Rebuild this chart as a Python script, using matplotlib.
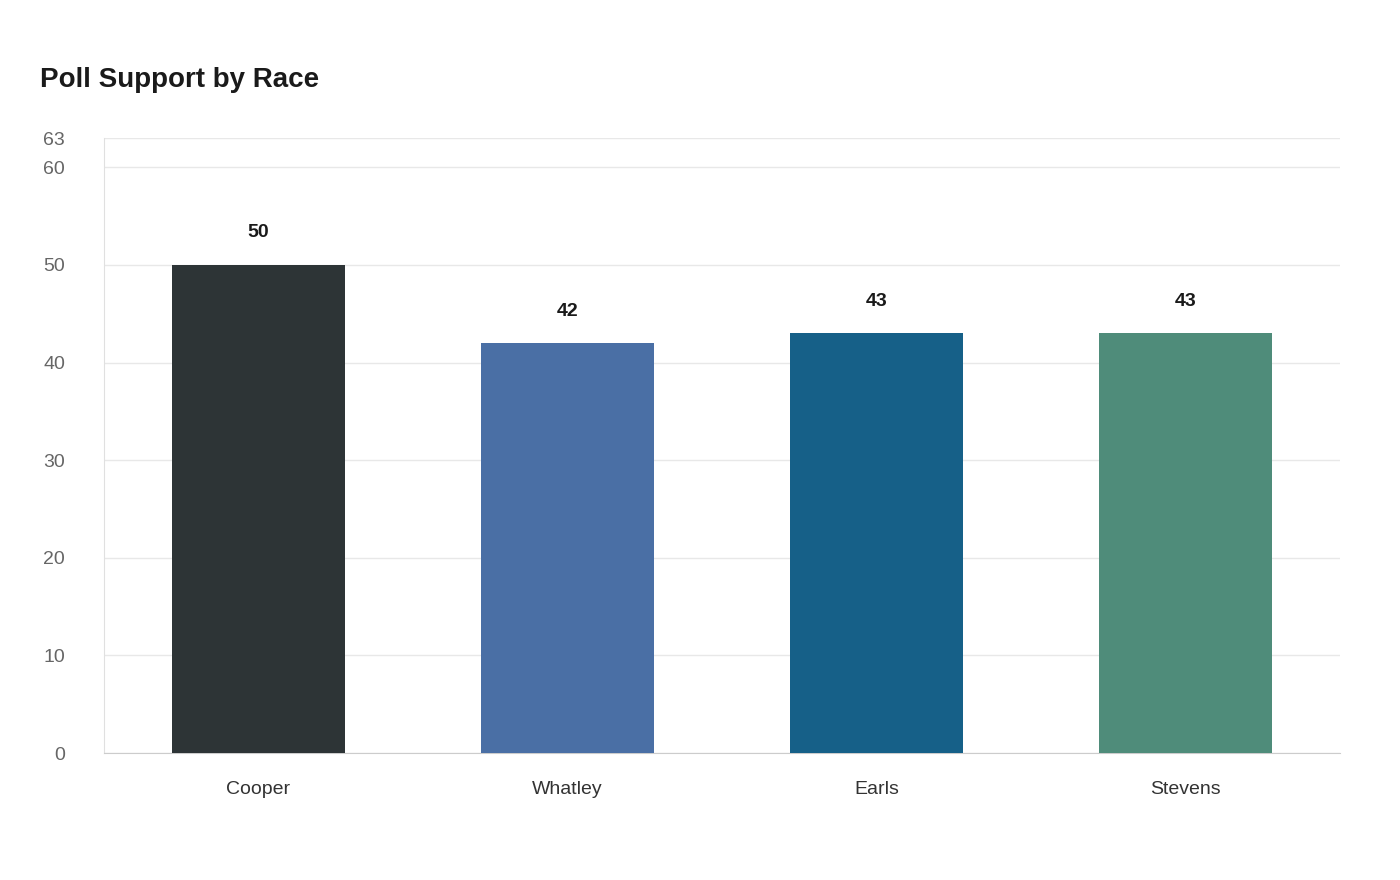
import matplotlib
matplotlib.use("Agg")
import matplotlib.pyplot as plt

plt.rcParams['font.family'] = ['Liberation Sans', 'DejaVu Sans']

categories = ["Cooper", "Whatley", "Earls", "Stevens"]
values = [50, 42, 43, 43]
colors = ["#2d3436", "#4a6fa5", "#166088", "#4f8c7a"]
yticks = [0, 10, 20, 30, 40, 50, 60, 63]

fig = plt.figure(figsize=(14, 8.8), dpi=100)
ax = fig.add_axes([104/1400, 1-753/880, 1236/1400, 615/880])
x = range(len(categories))
bars = ax.bar(x, values, width=0.557, color=colors, zorder=3)
for xi, v in zip(x, values):
    ax.text(xi, v + 2.4, str(v), ha='center', va='bottom', fontsize=14,
            fontweight='bold', color='#1a1a1a')
ax.set_xlim(-0.5, 3.5)
ax.set_ylim(0, 63)
ax.set_yticks(yticks)
ax.set_xticks(list(x))
ax.set_xticklabels(categories)
ax.tick_params(axis='x', length=0, pad=20, labelsize=14, labelcolor='#333333')
ax.tick_params(axis='y', length=0, pad=28, labelsize=14, labelcolor='#666666')
for lab in ax.get_yticklabels():
    lab.set_horizontalalignment('right')
ax.grid(axis='y', color='#e8e8e8', linewidth=1, zorder=0)
for s in ['top', 'right']:
    ax.spines[s].set_visible(False)
ax.spines['left'].set_color('#e0e0e0')
ax.spines['bottom'].set_color('#cccccc')
fig.text(40/1400, 1-80/880, "Poll Support by Race", fontsize=20, fontweight='bold',
         color='#1a1a1a', va='center', ha='left')
fig.savefig("out.png", dpi=100, facecolor='white')
